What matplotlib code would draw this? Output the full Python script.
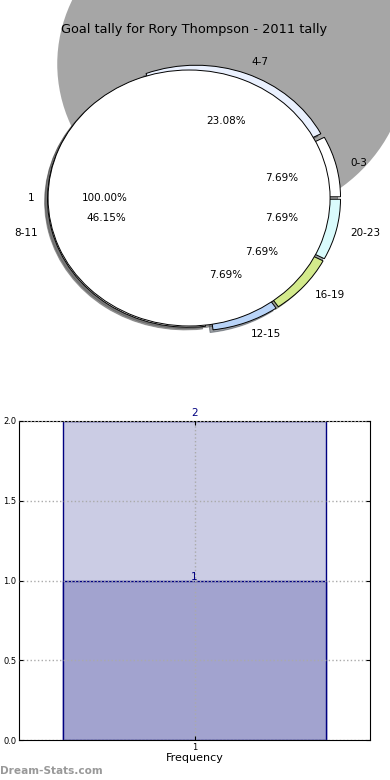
import matplotlib
matplotlib.use('Agg')
import matplotlib.pyplot as plt
from matplotlib.patches import Ellipse

# goals by minute range
ranges = ['0-3', '4-7', '8-11', '12-15', '16-19', '20-23']
goals = [1, 3, 6, 1, 1, 1]
range_colors = ['#ffffff', '#eaf1ff', '#ffffff', '#b9d4f8', '#d3ea8c', '#d9fbfc']

# inner pie (single group)
inner_labels = ['1']
inner_values = [1]

# frequency bars
freq_ticks = [1]
freq_total = [2]
freq_first = [1]

fig = plt.figure(figsize=(3.9, 7.8), dpi=100)

# ---- pie part ----
ax = fig.add_axes([0, 0.5, 1, 0.5])
ax.add_patch(Ellipse((0.27, 1.047), 2.48, 2.47, facecolor='#a6a6a6',
                     edgecolor='none', zorder=0))

sh = {'ox': -0.015, 'oy': -0.015}
ax.pie(goals, labels=ranges, colors=range_colors, autopct='%.2f%%',
       explode=[0.04] * len(goals), shadow=sh,
       wedgeprops={'edgecolor': 'black', 'linewidth': 0.7},
       textprops={'fontsize': 7.5})
ax.pie(inner_values, labels=inner_labels, colors=['white'], autopct='%.2f%%',
       explode=[0.035], shadow=sh,
       wedgeprops={'edgecolor': 'black', 'linewidth': 0.7},
       textprops={'fontsize': 7.5})
ax.set_aspect('auto')
ax.set_xlim(-1.376, 1.39)
ax.set_ylim(-1.5, 1.547)
ax.axis('off')

fig.text(194 / 390, 1 - 30 / 780, 'Goal tally for Rory Thompson - 2011 tally',
         ha='center', va='center', fontsize=9.3)

# ---- bar part ----
bx = fig.add_axes([19 / 390, 40 / 780, 351 / 390, 319 / 780])
bx.bar(freq_ticks, freq_total, width=0.75, color='#cbcce4', edgecolor='navy', linewidth=1)
bx.bar(freq_ticks, freq_first, width=0.75, color='#a2a3cf', edgecolor='navy', linewidth=1)
for x, v in zip(freq_ticks, freq_total):
    bx.text(x, v + 0.02, str(v), ha='center', va='bottom', color='navy', fontsize=7.5)
for x, v in zip(freq_ticks, freq_first):
    bx.text(x, v - 0.01, str(v), ha='center', va='bottom', color='navy', fontsize=7.5)

bx.set_xlim(0.5, 1.5)
bx.set_ylim(0, 2)
bx.set_xticks(freq_ticks)
bx.set_yticks([0, 0.5, 1.0, 1.5, 2.0])
bx.set_yticklabels(['0.0', '0.5', '1.0', '1.5', '2.0'])
bx.tick_params(direction='in', length=3, labelsize=6, top=True, right=True, pad=2)
bx.grid(True, linestyle=':', color='#aaaaaa', linewidth=1)
bx.set_axisbelow(False)
bx.set_xlabel('Frequency', fontsize=8, labelpad=1)

fig.text(0.0, 1 - 771 / 780, 'Dream-Stats.com', ha='left', va='center',
         fontsize=7.6, color='#999999', fontweight='bold')

fig.savefig('out.png', dpi=100)
